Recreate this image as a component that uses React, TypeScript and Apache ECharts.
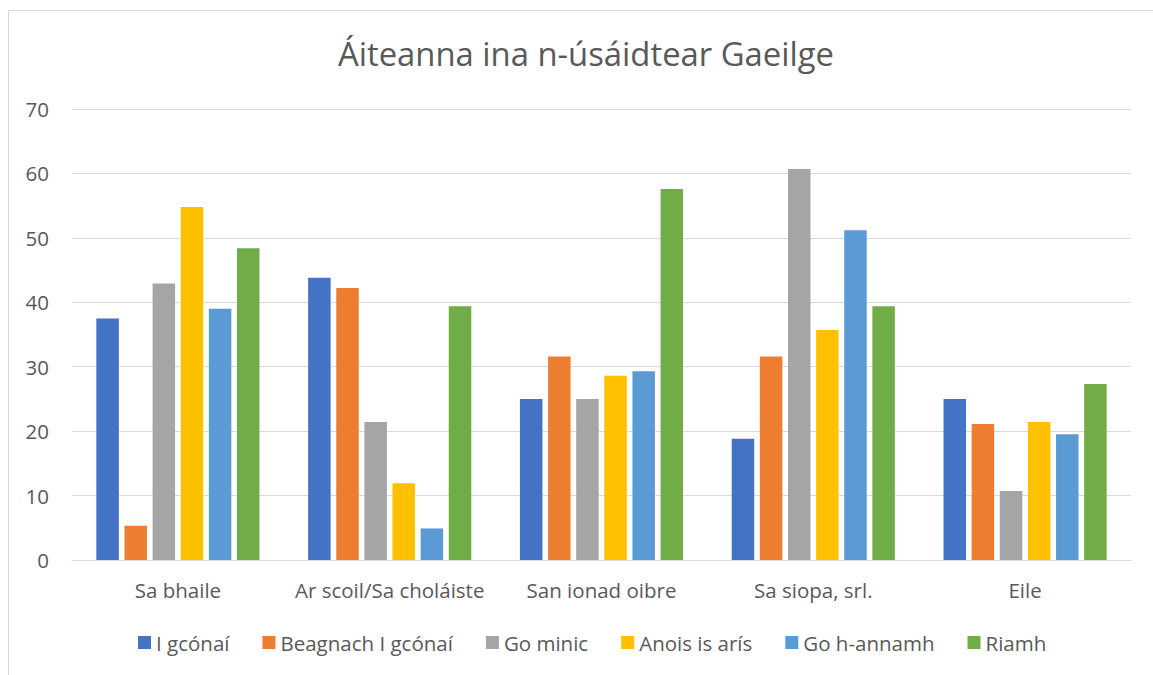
import React, { useEffect, useRef } from "react";
import * as echarts from "echarts";

const categories = ["Sa bhaile", "Ar scoil/Sa choláiste", "San ionad oibre", "Sa siopa, srl.", "Eile"];
const seriesNames = ["I gcónaí", "Beagnach I gcónaí", "Go minic", "Anois is arís", "Go h-annamh", "Riamh"];
const colors = ["#4472C4", "#ED7D31", "#A5A5A5", "#FFC000", "#5B9BD5", "#70AD47"];
const iGconai = [37.5, 43.8, 25, 18.8, 25];
const beagnach = [5.3, 42.2, 31.6, 31.6, 21.1];
const goMinic = [42.9, 21.4, 25, 60.7, 10.7];
const anois = [54.8, 11.9, 28.6, 35.7, 21.4];
const goHannamh = [39, 4.9, 29.3, 51.2, 19.5];
const riamh = [48.4, 39.4, 57.6, 39.4, 27.3];
const seriesData = [iGconai, beagnach, goMinic, anois, goHannamh, riamh];

const FONT = "'Open Sans', sans-serif";
const TEXT = "#595959";

export default function App() {
  const ref = useRef<HTMLDivElement>(null);
  useEffect(() => {
    const chart = echarts.init(ref.current!, null, { renderer: "svg" });
    chart.setOption({
      animation: false,
      backgroundColor: "#fff",
      title: {
        text: "Áiteanna ina n-úsáidtear Gaeilge",
        left: 333,
        top: 32,
        textStyle: { fontFamily: FONT, fontSize: 32.8, fontWeight: "normal", color: TEXT },
      },
      graphic: [
        {
          type: "rect",
          shape: { x: 8.5, y: 10.5, width: 1300, height: 800 },
          style: { fill: "none", stroke: "#D9D9D9", lineWidth: 1 },
          silent: true,
        },
      ],
      legend: {
        bottom: 17,
        left: 133,
        itemWidth: 13,
        itemHeight: 13,
        itemGap: 33,
        icon: "rect",
        textStyle: { fontFamily: FONT, fontSize: 20.5, color: TEXT },
        data: seriesNames,
      },
      grid: { left: 72, right: 22, top: 109, bottom: 115, containLabel: false },
      xAxis: {
        type: "category",
        data: categories,
        axisLine: { lineStyle: { color: "#D9D9D9", width: 1 } },
        axisTick: { show: false },
        axisLabel: { fontFamily: FONT, fontSize: 20.5, color: TEXT, margin: 19, interval: 0 },
      },
      yAxis: {
        type: "value",
        min: 0,
        max: 70,
        interval: 10,
        axisLine: { show: false },
        axisTick: { show: false },
        splitLine: { lineStyle: { color: "#D9D9D9", width: 1 } },
        axisLabel: { fontFamily: FONT, fontSize: 20.5, color: TEXT, margin: 23 },
      },
      series: seriesNames.map((name, i) => ({
        name,
        type: "bar",
        data: seriesData[i],
        barWidth: 22.5,
        barGap: "25%",
        itemStyle: { color: colors[i] },
      })),
    });
    return () => chart.dispose();
  }, []);
  return (
    <div
      ref={ref}
      style={{ position: "fixed", left: 0, top: 0, width: 1153, height: 675 }}
    />
  );
}
